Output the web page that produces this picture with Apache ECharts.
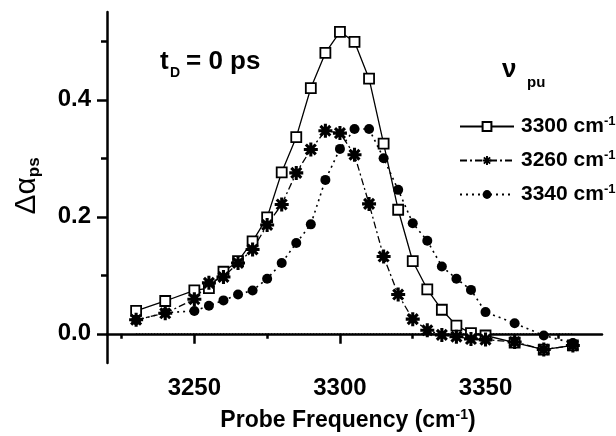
<!DOCTYPE html>
<html>
<head>
<meta charset="utf-8">
<script src="https://cdn.jsdelivr.net/npm/echarts@6.0.0/dist/echarts.min.js"></script>
<style>
  html, body { margin: 0; padding: 0; background: #fff; }
  #main { width: 616px; height: 436px; }
</style>
</head>
<body>
<div id="main"></div>
<script>
// probe frequency (cm-1)
var freq = [3230, 3240, 3250, 3255, 3260, 3265, 3270, 3275, 3280, 3285, 3290, 3295, 3300,
  3305, 3310, 3315, 3320, 3325, 3330, 3335, 3340, 3345, 3350, 3360, 3370, 3380]

// delta alpha for each pump frequency
var pump3300 = [0.039, 0.056, 0.074, 0.078, 0.106, 0.124, 0.158, 0.199, 0.276, 0.336, 0.420, 0.480, 0.516,
  0.499, 0.436, 0.325, 0.212, 0.124, 0.076, 0.041, 0.014, 0.001, -0.003, -0.015, -0.027, -0.020]
var pump3260 = [0.024, 0.035, 0.059, 0.087, 0.097, 0.121, 0.144, 0.186, 0.221, 0.275, 0.315, 0.347, 0.343,
  0.306, 0.222, 0.132, 0.067, 0.025, 0.006, -0.002, -0.005, -0.009, -0.010, -0.014, -0.027, -0.020]
var pump3340 = [0.023, 0.036, 0.039, 0.048, 0.057, 0.067, 0.074, 0.094, 0.121, 0.155, 0.187, 0.263, 0.316,
  0.350, 0.350, 0.300, 0.246, 0.189, 0.159, 0.115, 0.094, 0.075, 0.037, 0.018, -0.003, -0.016]

var seriesNames = ['3300', '3260', '3340']

// dotted zero reference line
var zeroLine = [[3230, 0], [3380, 0]]

// ticks
var xTickLabels = [3250, 3300, 3350]
var xMinorTicks = [3225, 3275, 3325, 3375]
var yTickLabels = [0, 0.2, 0.4]
var yMinorTicks = [0.1, 0.3, 0.5]

var FONT = '"Liberation Sans", Arial, sans-serif'

function pairs(ys) {
  return freq.map(function (f, i) { return [f, ys[i]] })
}

// asterisk marker
var starPath = 'path://M-5,-1.1L5,-1.1L5,1.1L-5,1.1Z' +
  'M-1.1,-5L1.1,-5L1.1,5L-1.1,5Z' +
  'M-2.76,-4.32L4.32,2.76L2.76,4.32L-4.32,-2.76Z' +
  'M2.76,-4.32L4.32,-2.76L-2.76,4.32L-4.32,2.76Z'

var myChart = echarts.init(document.getElementById('main'))

var axisLine = { show: true, lineStyle: { color: '#000', width: 2.5 } }

myChart.setOption({
  animation: false,
  grid: { left: 107, right: 14, top: 12, bottom: 73 },
  xAxis: [{
    type: 'value', min: 3220, max: 3390,
    axisLine: axisLine,
    axisTick: { customValues: xTickLabels, length: 10, lineStyle: { width: 2.5, color: '#000' } },
    axisLabel: {
      customValues: xTickLabels, margin: 13, color: '#000', fontSize: 24, fontWeight: 'bold', fontFamily: FONT,
      formatter: function (v) { return String(v) }
    },
    splitLine: { show: false }
  }, {
    type: 'value', min: 3220, max: 3390, position: 'bottom',
    axisLine: { show: false },
    axisTick: { customValues: xMinorTicks, length: 5, lineStyle: { width: 2.5, color: '#000' } },
    axisLabel: { show: false },
    splitLine: { show: false }
  }],
  yAxis: [{
    type: 'value', min: -0.05, max: 0.55,
    axisLine: axisLine,
    axisTick: { customValues: yTickLabels, length: 10, lineStyle: { width: 2.5, color: '#000' } },
    axisLabel: {
      customValues: yTickLabels, margin: 16, color: '#000', fontSize: 24, fontWeight: 'bold', fontFamily: FONT,
      formatter: function (v) { return v.toFixed(1) }
    },
    splitLine: { show: false }
  }, {
    type: 'value', min: -0.05, max: 0.55, position: 'left',
    axisLine: { show: false },
    axisTick: { customValues: yMinorTicks, length: 6, lineStyle: { width: 2.5, color: '#000' } },
    axisLabel: { show: false },
    splitLine: { show: false }
  }],
  legend: {
    orient: 'vertical', left: 454, top: 110,
    itemWidth: 54, itemHeight: 11, itemGap: 12,
    data: seriesNames,
    textStyle: {
      padding: [0, 0, 0, 2],
      rich: {
        v: { fontSize: 21, fontWeight: 'bold', fontFamily: FONT, color: '#000', lineHeight: 23 },
        s: { fontSize: 13, fontWeight: 'bold', fontFamily: FONT, color: '#000', lineHeight: 12, verticalAlign: 'top' }
      }
    },
    formatter: function (name) { return '{v|' + name + ' cm}{s|-1}' }
  },
  graphic: [
    { type: 'text', left: 160, top: 49, style: { text: 't', fontSize: 26, fontWeight: 'bold', fontFamily: FONT, fill: '#000' } },
    { type: 'text', left: 170, top: 66, style: { text: 'D', fontSize: 14, fontWeight: 'bold', fontFamily: FONT, fill: '#000' } },
    { type: 'text', left: 186, top: 49, style: { text: '= 0 ps', fontSize: 26, fontWeight: 'bold', fontFamily: FONT, fill: '#000' } },
    { type: 'text', left: 502, top: 57, style: { text: 'ν', fontSize: 26, fontWeight: 'bold', fontFamily: FONT, fill: '#000' } },
    { type: 'text', left: 527, top: 75, style: { text: 'pu', fontSize: 15, fontWeight: 'bold', fontFamily: FONT, fill: '#000' } },
    {
      type: 'text', x: 27, y: 186, rotation: Math.PI / 2,
      style: {
        text: '{a|Δα}{b|ps}', align: 'center', verticalAlign: 'middle',
        rich: {
          a: { fontSize: 30, fontFamily: FONT, fill: '#000', lineHeight: 32 },
          b: { fontSize: 17, fontWeight: 'bold', fontFamily: FONT, fill: '#000', lineHeight: 15, verticalAlign: 'bottom' }
        }
      }
    },
    {
      type: 'text', x: 348, y: 421,
      style: {
        text: '{a|Probe Frequency (cm}{s|-1}{a|)}', align: 'center', verticalAlign: 'middle',
        rich: {
          a: { fontSize: 23, fontWeight: 'bold', fontFamily: FONT, fill: '#000', lineHeight: 26 },
          s: { fontSize: 14, fontWeight: 'bold', fontFamily: FONT, fill: '#000', lineHeight: 13, verticalAlign: 'top' }
        }
      }
    }
  ],
  series: [{
    name: 'zero', type: 'line', data: zeroLine, symbol: 'none', silent: true,
    lineStyle: { color: '#000', width: 1, type: [1, 2] }
  }, {
    name: seriesNames[0], type: 'line', data: pairs(pump3300),
    symbol: 'rect', symbolSize: 10,
    lineStyle: { color: '#000', width: 1.3 },
    itemStyle: { color: '#fff', borderColor: '#000', borderWidth: 1.8 }
  }, {
    name: seriesNames[1], type: 'line', data: pairs(pump3260),
    symbol: starPath, symbolSize: 14, symbolKeepAspect: true,
    lineStyle: { color: '#000', width: 1.3, type: [7, 3, 2, 3] },
    itemStyle: { color: '#000', borderWidth: 0 }
  }, {
    name: seriesNames[2], type: 'line', data: pairs(pump3340),
    symbol: 'circle', symbolSize: 10,
    lineStyle: { color: '#000', width: 1.6, type: [2, 4] },
    itemStyle: { color: '#000', borderWidth: 0 }
  }]
})
</script>
</body>
</html>
